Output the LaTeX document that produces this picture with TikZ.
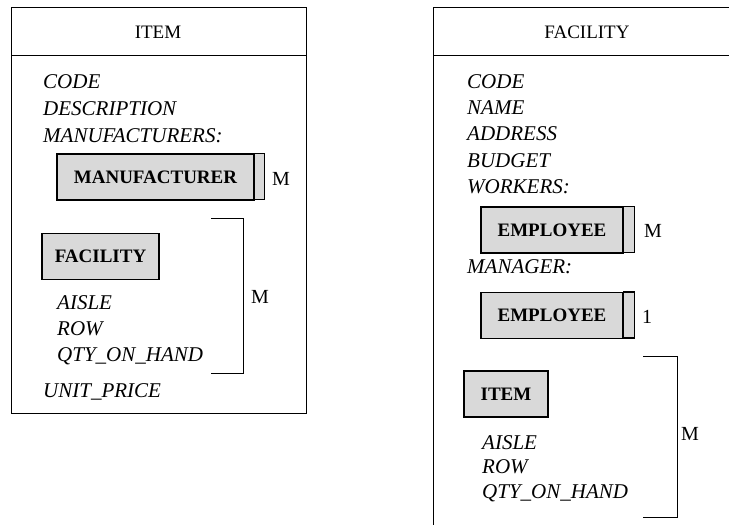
\documentclass[tikz,border=0pt]{standalone}
\usepackage{fontspec}
\setmainfont{Liberation Serif}
\usepackage{tikz}
\usetikzlibrary{positioning,calc}

\begin{document}
\begin{tikzpicture}[x=1pt, y=-1pt,
  frame/.style={draw, line width=0.8pt},
  head/.style={font=\fontsize{19}{21}\selectfont},
  attr/.style={anchor=west, inner sep=0pt, font=\fontsize{21}{23}\selectfont\itshape},
  obj/.style={draw, line width=1.4pt, fill=gray!30, minimum height=46pt,
              inner sep=0pt, font=\fontsize{19}{21}\selectfont\bfseries},
  bar/.style={draw, line width=1.4pt, fill=gray!30},
  card/.style={font=\fontsize{20}{22}\selectfont},
  brk/.style={draw, line width=1pt}
]
\useasboundingbox (0,0) rectangle (729,525);

% ITEM record
\draw[frame] (11,7) rectangle (306,413);
\draw[frame] (11,55) -- (306,55);
\node[head] (itemhd) at (158,32) {ITEM};
\node[attr] (icode)  at (43,82)  {CODE};
\node[attr] (idesc)  at (43,109) {DESCRIPTION};
\node[attr] (imanus) at (43,136) {MANUFACTURERS:};
\node[obj, minimum width=197pt] (manu) at (155.5,177) {MANUFACTURER};
\draw[bar] (manu.north east) rectangle ++(10,46);
\node[card] (mm) at (281,179) {M};
\node[obj, minimum width=117pt] (ifac) at (100.5,256.5) {FACILITY};
\node[attr] (iaisle) at (57,303) {AISLE};
\node[attr] (irow)   at (57,329) {ROW};
\node[attr] (iqty)   at (57,356) {QTY\_ON\_HAND};
\node[attr] (iprice) at (43,392) {UNIT\_PRICE};
\draw[brk] (211,218) -- (243,218) -- (243,373) -- (211,373);
\node[card] (fm) at (260,297) {M};

% FACILITY record
\draw[frame] (729,7) -- (433,7) -- (433,525);
\draw[frame] (433,55) -- (729,55);
\node[head] (fachd) at (587,32) {FACILITY};
\node[attr] (fcode)  at (467,82)  {CODE};
\node[attr] (fname)  at (467,108) {NAME};
\node[attr] (faddr)  at (467,134) {ADDRESS};
\node[attr] (fbudg)  at (467,161) {BUDGET};
\node[attr] (fwork)  at (467,187) {WORKERS:};
\node[obj, minimum width=142pt] (emp1) at (552,230) {EMPLOYEE};
\draw[bar] (emp1.north east) rectangle ++(11,46);
\node[card] (em) at (653,231) {M};
\node[attr] (fmgr)   at (467,267) {MANAGER:};
\node[obj, minimum width=142pt] (emp2) at (552,315.5) {EMPLOYEE};
\draw[bar] (emp2.north east) rectangle ++(11,46);
\node[card] (eone) at (647,317) {1};
\node[obj, minimum width=84pt] (fitem) at (506,394) {ITEM};
\node[attr] (faisle) at (482,443) {AISLE};
\node[attr] (frow)   at (482,467) {ROW};
\node[attr] (fqty)   at (482,493) {QTY\_ON\_HAND};
\draw[brk] (643,356) -- (677,356) -- (677,517) -- (643,517);
\node[card] (im) at (690,434) {M};
\end{tikzpicture}
\end{document}
